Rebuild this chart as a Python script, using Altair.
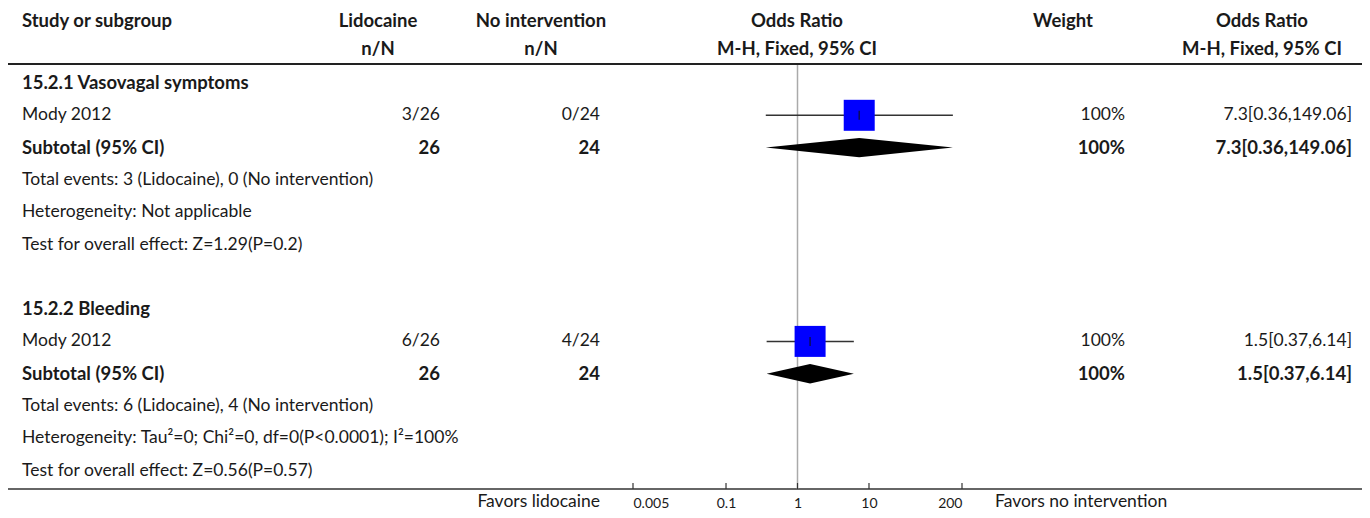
import altair as alt
import pandas as pd

FONT = "Lato"
FS = 17.5
FSB = 18.5
TXT = "#1a1a1a"

# ---------------- data ----------------
row_idx = list(range(13))
study = [
    "15.2.1 Vasovagal symptoms",
    "Mody 2012",
    "Subtotal (95% CI)",
    "Total events: 3 (Lidocaine), 0 (No intervention)",
    "Heterogeneity: Not applicable",
    "Test for overall effect: Z=1.29(P=0.2)",
    "",
    "15.2.2 Bleeding",
    "Mody 2012",
    "Subtotal (95% CI)",
    "Total events: 6 (Lidocaine), 4 (No intervention)",
    "Heterogeneity: Tau\u00b2=0; Chi\u00b2=0, df=0(P<0.0001); I\u00b2=100%",
    "Test for overall effect: Z=0.56(P=0.57)",
]
is_bold = [1, 0, 1, 0, 0, 0, 0, 1, 0, 1, 0, 0, 0]
lidocaine = ["", "3/26", "26", "", "", "", "", "", "6/26", "26", "", "", ""]
no_interv = ["", "0/24", "24", "", "", "", "", "", "4/24", "24", "", "", ""]
weight = ["", "100%", "100%", "", "", "", "", "", "100%", "100%", "", "", ""]
or_text = ["", "7.3[0.36,149.06]", "7.3[0.36,149.06]", "", "", "", "", "",
           "1.5[0.37,6.14]", "1.5[0.37,6.14]", "", "", ""]

study_rows = [1, 8]
study_or = [7.3, 1.5]
study_lo = [0.36, 0.37]
study_hi = [149.06, 6.14]

sub_rows = [2, 9]
sub_or = [7.3, 1.5]
sub_lo = [0.36, 0.37]
sub_hi = [149.06, 6.14]

tick_values = [0.005, 0.1, 1, 10, 200]

# ---------------- layout ----------------
W, H = 1354, 481
ROW0, ROWH = 75.0, 32.3
D0 = -ROW0 / ROWH
D1 = D0 + H / ROWH
YS = alt.Scale(domain=[D0, D1], range=[0, H], zero=False, nice=False)
XS = alt.Scale(type="log", domain=[0.005, 200], range=[625, 954])
XAXIS = alt.Axis(values=tick_values, format="~g", labelFlush=True, ticks=False,
                 domain=False, grid=False, labelFontSize=14, labelFont=FONT,
                 labelColor=TXT, labelPadding=7, title=None, orient="bottom")


def X(field):
    return alt.X(field, type="quantitative", scale=XS, axis=XAXIS)


def Y(field):
    return alt.Y(field, type="quantitative", scale=YS, axis=None)


rows = pd.DataFrame({"row": row_idx, "study": study, "bold": is_bold,
                     "lido": lidocaine, "noint": no_interv, "weight": weight,
                     "ortext": or_text})

layers = []

# table text columns
cols = [("study", 14, "left"), ("lido", 432, "right"), ("noint", 592, "right"),
        ("weight", 1117, "right"), ("ortext", 1344, "right")]
for field, xpos, al in cols:
    for b in (0, 1):
        layers.append(
            alt.Chart(rows).transform_filter(alt.datum.bold == b).mark_text(
                align=al, baseline="middle", font=FONT, fontSize=FSB if b else FS,
                fontWeight="bold" if b else "normal", color=TXT
            ).encode(x=alt.value(xpos), y=Y("row"), text=alt.Text(field, type="nominal"))
        )

# headers
H1, H2 = 13, 41
headers = [
    ("Study or subgroup", 14, H1, "left"),
    ("Lidocaine", 370, H1, "center"),
    ("n/N", 370, H2, "center"),
    ("No intervention", 533, H1, "center"),
    ("n/N", 533, H2, "center"),
    ("Odds Ratio", 789, H1, "center"),
    ("M-H, Fixed, 95% CI", 789, H2, "center"),
    ("Weight", 1055, H1, "center"),
    ("Odds Ratio", 1254, H1, "center"),
    ("M-H, Fixed, 95% CI", 1254, H2, "center"),
]
for t, xpos, ypos, al in headers:
    layers.append(
        alt.Chart(pd.DataFrame({"t": [t]})).mark_text(
            align=al, baseline="middle", font=FONT, fontSize=FSB, fontWeight="bold", color=TXT
        ).encode(x=alt.value(xpos), y=alt.value(ypos), text="t:N")
    )

# footer labels
for t, xpos, al in [("Favors lidocaine", 592, "right"), ("Favors no intervention", 987, "left")]:
    layers.append(
        alt.Chart(pd.DataFrame({"t": [t]})).mark_text(
            align=al, baseline="middle", font=FONT, fontSize=FS, color=TXT
        ).encode(x=alt.value(xpos), y=alt.value(494), text="t:N")
    )

# horizontal rules
rule_df = pd.DataFrame({"k": [0]})
layers.append(alt.Chart(rule_df).mark_rule(color="#222", strokeWidth=2).encode(
    x=alt.value(-2), x2=alt.value(W + 6), y=alt.value(56)))
layers.append(alt.Chart(rule_df).mark_rule(color="#333", strokeWidth=1.5).encode(
    x=alt.value(-2), x2=alt.value(W + 6), y=alt.value(H)))

# null line at OR = 1
layers.append(alt.Chart(pd.DataFrame({"v": [1.0]})).mark_rule(color="#aaaaaa", strokeWidth=1.5).encode(
    x=X("v"), y=alt.value(57), y2=alt.value(H)))

# axis ticks (pointing up)
layers.append(alt.Chart(pd.DataFrame({"v": tick_values})).mark_rule(color="#333", strokeWidth=1.2).encode(
    x=X("v"), y=alt.value(H - 6), y2=alt.value(H)))

# study CI lines, squares, point marks
sdf = pd.DataFrame({"row": study_rows, "or": study_or, "lo": study_lo, "hi": study_hi})
layers.append(alt.Chart(sdf).mark_rule(color="#333", strokeWidth=1.5).encode(
    x=X("lo"), x2="hi", y=Y("row")))
layers.append(alt.Chart(sdf).mark_square(color="#0000ff", opacity=1, size=961).encode(
    x=X("or"), y=Y("row")))
layers.append(alt.Chart(sdf).mark_tick(color="#111", orient="vertical", size=9, thickness=1.5).encode(
    x=X("or"), y=Y("row")))

# subtotal diamonds (horizontal area: left edge -> right edge at each height)
HALF = 0.3
dpts = []
for g, (r, o, lo, hi) in enumerate(zip(sub_rows, sub_or, sub_lo, sub_hi)):
    dpts.append({"g": g, "yy": r - HALF, "xl": o, "xr": o})
    dpts.append({"g": g, "yy": r, "xl": lo, "xr": hi})
    dpts.append({"g": g, "yy": r + HALF, "xl": o, "xr": o})
ddf = pd.DataFrame(dpts)
for g in range(len(sub_rows)):
    layers.append(alt.Chart(ddf[ddf["g"] == g]).mark_area(
        color="#000000", orient="horizontal", opacity=1, interpolate="linear"
    ).encode(x=X("xl"), x2="xr", y=Y("yy")))

chart = alt.layer(*layers).properties(
    width=W, height=H,
    autosize=alt.AutoSizeParams(type="none"),
    padding={"left": 0, "top": 0, "right": 0, "bottom": 21},
).configure_view(stroke=None)

chart.save("out.html", embed_options={"renderer": "svg", "actions": False})
